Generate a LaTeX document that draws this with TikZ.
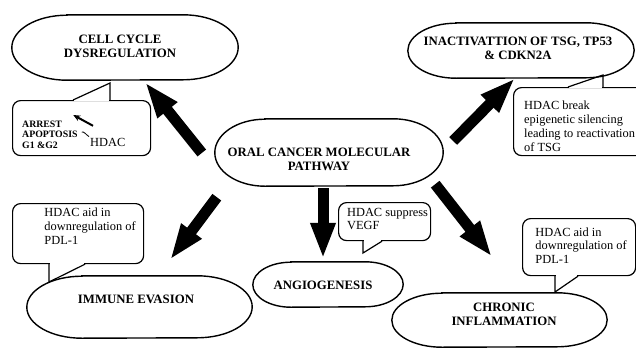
\documentclass[tikz,border=0pt]{standalone}
\usepackage{fontspec}
\setmainfont{Liberation Serif}
\usetikzlibrary{arrows.meta}

\tikzset{
  pill/.style={inner sep=0pt},
  pilltext/.style={font=\bfseries\fontsize{12.8}{13.8}\selectfont, align=center, inner sep=0pt},
  pillline/.style={line width=1.4pt},
  note/.style={draw, line width=1.2pt, rounded corners=8pt, anchor=north west, inner sep=0pt},
  notetext/.style={font=\fontsize{12.4}{13.8}\selectfont, align=left, inner sep=0pt},
  pointer/.style={line width=1.2pt},
  gap/.style={white, line width=2.4pt},
  bigarrow/.style={line width=11pt, -{Triangle[width=23pt,length=36pt]}},
}

\begin{document}
\begin{tikzpicture}[x=1pt, y=1pt]
  \useasboundingbox (0,0) rectangle (636,-348);

  % pathway blocks
  \node[pill, minimum width=226pt, minimum height=65pt,
        label={[pilltext, xshift=-5pt, yshift=1.5pt]center:{CELL CYCLE\\DYSREGULATION}}] (cell) at (125,-47.5) {};
  \node[pill, minimum width=226pt, minimum height=55pt,
        label={[pilltext, xshift=-3pt, yshift=2pt]center:{INACTIVATTION OF TSG, TP53\\\& CDKN2A}}] (inact) at (521,-50.5) {};
  \node[pill, minimum width=228pt, minimum height=67pt,
        label={[pilltext, xshift=-10pt, yshift=-7pt]center:{ORAL CANCER MOLECULAR\\PATHWAY}}] (oral) at (329,-152.5) {};
  \node[pill, minimum width=225pt, minimum height=62pt,
        label={[pilltext, xshift=-3.5pt, yshift=8pt]center:IMMUNE EVASION}] (immune) at (139.5,-307) {};
  \node[pill, minimum width=150pt, minimum height=45pt,
        label={[pilltext, xshift=-5pt, yshift=-1pt]center:ANGIOGENESIS}] (angio) at (328,-284.5) {};
  \node[pill, minimum width=215pt, minimum height=54pt,
        label={[pilltext, xshift=4.5pt, yshift=5.3pt]center:{CHRONIC\\INFLAMMATION}}] (chronic) at (499.5,-320) {};

  \foreach \n/\rx/\ry in {cell/55/32.5, inact/48/27.5, oral/50/33.5, immune/55/31, angio/38/22.5, chronic/50/27}
    \draw[pillline] ([xshift=\rx]\n.north west) -- ([xshift=-\rx]\n.north east)
      arc[start angle=90, end angle=-90, x radius=\rx, y radius=\ry]
      -- ([xshift=\rx]\n.south west)
      arc[start angle=270, end angle=90, x radius=\rx, y radius=\ry] -- cycle;

  % arrows out of the pathway
  \draw[bigarrow] ([shift={(-13pt,-0.5pt)}]oral.west) -- ([shift={(20pt,-2pt)}]cell.south);
  \draw[bigarrow] ([shift={(10pt,11.5pt)}]oral.east) -- ([shift={(-6pt,0pt)}]inact.south);
  \draw[bigarrow] ([shift={(2pt,-11pt)}]oral.south west) -- ([shift={(30.5pt,16pt)}]immune.north);
  \draw[bigarrow] ([shift={(-6pt,-2pt)}]oral.south) -- ([shift={(-5pt,3pt)}]angio.north);
  \draw[bigarrow] ([shift={(-8pt,2pt)}]oral.south east) -- ([shift={(-7.5pt,36pt)}]chronic.north);

  % notes
  \node[note, minimum width=138pt, minimum height=55pt] (cellnote) at (12,-100) {};
  \node[note, minimum width=135pt, minimum height=68pt,
        label={[notetext, xshift=-1.5pt, yshift=-4.8pt]center:{HDAC break\\epigenetic silencing\\leading to reactivation\\of TSG}}] (inactnote) at (513,-87) {};
  \node[note, minimum width=131pt, minimum height=60pt,
        label={[notetext, xshift=12pt, yshift=7.2pt]center:{HDAC aid in\\downregulation of\\PDL-1}}] (immunenote) at (12,-203) {};
  \node[note, minimum width=92pt, minimum height=38pt,
        label={[notetext, xshift=3pt, yshift=2.7pt]center:{HDAC suppress\\VEGF}}] (angionote) at (338,-202) {};
  \node[note, minimum width=113pt, minimum height=57pt,
        label={[notetext, xshift=2pt, yshift=1.5pt]center:{HDAC aid in\\downregulation of\\PDL-1}}] (chronicnote) at (522,-218) {};

  % note pointers
  \coordinate (celltip) at (110,-83);
  \coordinate (inacttip) at (603,-75);
  \coordinate (immunetip) at (49,-282);
  \coordinate (angiotip) at (363,-253);
  \coordinate (chronictip) at (555,-292);
  \draw[gap] ([xshift=62]cellnote.north west) -- ([xshift=97]cellnote.north west);
  \draw[pointer] ([xshift=61]cellnote.north west) -- (celltip) -- ([xshift=98]cellnote.north west);
  \draw[gap] ([xshift=56]inactnote.north west) -- ([xshift=89]inactnote.north west);
  \draw[pointer] ([xshift=55]inactnote.north west) -- (inacttip) -- ([xshift=90]inactnote.north west);
  \draw[gap] ([xshift=38]immunenote.south west) -- ([xshift=72]immunenote.south west);
  \draw[pointer] ([xshift=37]immunenote.south west) -- (immunetip) -- ([xshift=73]immunenote.south west);
  \draw[gap] ([xshift=26]angionote.south west) -- ([xshift=43]angionote.south west);
  \draw[pointer] ([xshift=25]angionote.south west) -- (angiotip) -- ([xshift=44]angionote.south west);
  \draw[gap] ([xshift=34]chronicnote.south west) -- ([xshift=55]chronicnote.south west);
  \draw[pointer] ([xshift=33]chronicnote.south west) -- (chronictip) -- ([xshift=56]chronicnote.south west);

  % inside the cell cycle note
  \node[anchor=north west, inner sep=0pt, align=left, font=\bfseries\fontsize{9.8}{10.5}\selectfont] (arrest) at (22,-120.7) {ARREST\\APOPTOSIS\\G1 \&G2};
  \node[anchor=base west, inner sep=0pt, font=\fontsize{12.4}{14}\selectfont] (hdac) at (90,-146) {HDAC};
  \draw[line width=2pt, -{Stealth[length=7pt,width=6pt]}] ([shift={(3pt,11.8pt)}]hdac.north west) -- ([shift={(-4.5pt,5.7pt)}]arrest.north east);
  \draw[line width=0.8pt] ([shift={(4pt,2.5pt)}]arrest.east) .. controls +(1.5,1.5) and +(-3,2) .. ([shift={(-1pt,1pt)}]hdac.north west);
\end{tikzpicture}
\end{document}
